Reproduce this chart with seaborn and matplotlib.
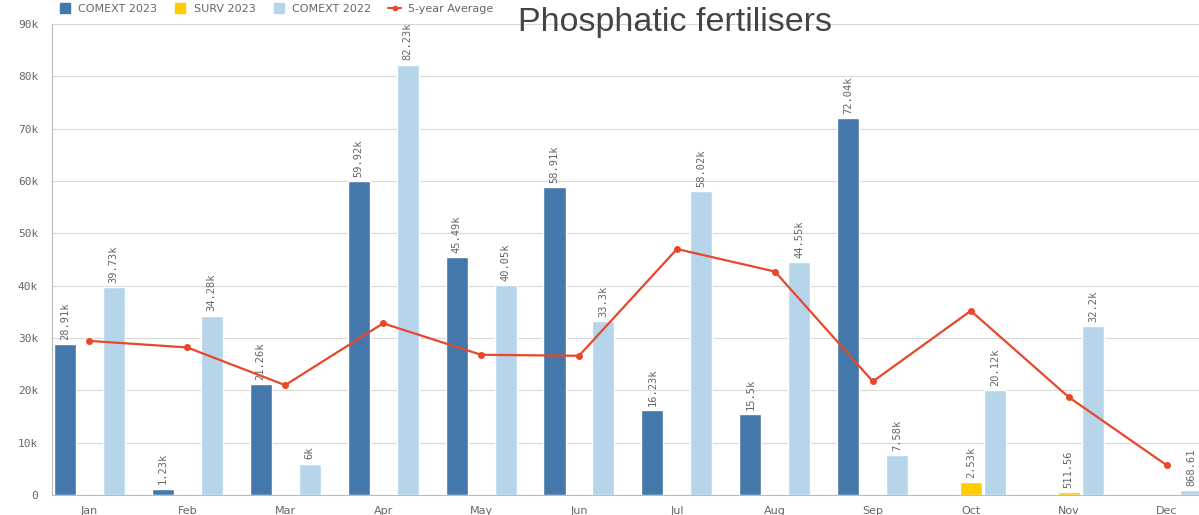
import numpy as np
import pandas as pd
import matplotlib
matplotlib.use("Agg")
import matplotlib.pyplot as plt
from matplotlib.lines import Line2D
import seaborn as sns

# chart data
months = ["Jan", "Feb", "Mar", "Apr", "May", "Jun", "Jul", "Aug", "Sep", "Oct", "Nov", "Dec"]
series = ["COMEXT 2023", "SURV 2023", "COMEXT 2022"]
comext_2023 = [28910, 1230, 21260, 59920, 45490, 58910, 16230, 15500, 72040, np.nan, np.nan, np.nan]
surv_2023 = [np.nan, np.nan, np.nan, np.nan, np.nan, np.nan, np.nan, np.nan, np.nan, 2530, 511.56, np.nan]
comext_2022 = [39730, 34280, 6000, 82230, 40050, 33300, 58020, 44550, 7580, 20120, 32200, 868.61]
avg_5y = [29450, 28200, 21000, 32800, 26800, 26600, 47000, 42700, 21700, 35200, 18700, 5700]
y_ticks = [0, 10000, 20000, 30000, 40000, 50000, 60000, 70000, 80000, 90000]
y_tick_labels = ["0", "10k", "20k", "30k", "40k", "50k", "60k", "70k", "80k", "90k"]

colors = {"COMEXT 2023": "#4477aa", "SURV 2023": "#ffcc00", "COMEXT 2022": "#b6d5ea"}
line_color = "#e8472b"
text_gray = "#666666"

df = pd.DataFrame({
    "month": months * 3,
    "series": np.repeat(series, len(months)),
    "value": comext_2023 + surv_2023 + comext_2022,
})


def fmt(v):
    if v >= 1000:
        s = f"{v / 1000:.2f}".rstrip("0").rstrip(".")
        return s + "k"
    return f"{v:.2f}"


sns.set_style("white")
plt.rcParams["font.family"] = ["DejaVu Sans"]

fig = plt.figure(figsize=(11.99, 5.15), dpi=100)
ax = fig.add_axes([0.0434, 0.0388, 0.9566, 0.9146])

sns.barplot(data=df, x="month", y="value", hue="series", order=months,
            hue_order=series, palette=colors, width=0.75, gap=0.1,
            dodge=True, saturation=1, legend=False, ax=ax, errorbar=None)

for cont in ax.containers:
    labels = [fmt(v) if not np.isnan(v) else "" for v in cont.datavalues]
    ax.bar_label(cont, labels=labels, rotation=90, padding=3, fontsize=7.5,
                 color=text_gray, family="DejaVu Sans Mono")

ax.plot(np.arange(len(months)), avg_5y, color=line_color, lw=1.6,
        marker="o", ms=4, zorder=5)

ax.set_xlim(-0.38, 11.33)
ax.set_ylim(0, 90000)
ax.set_yticks(y_ticks)
ax.set_yticklabels(y_tick_labels, family="DejaVu Sans Mono")
ax.set_xlabel("")
ax.set_ylabel("")
ax.grid(axis="y", color="#d9d9d9", lw=0.8)
ax.set_axisbelow(True)
for side in ["top", "right"]:
    ax.spines[side].set_visible(False)
ax.spines["left"].set_color("#bbbbbb")
ax.spines["bottom"].set_color("#bbbbbb")
ax.tick_params(axis="y", length=8, color="#bbbbbb", labelsize=8, labelcolor=text_gray, pad=2)
ax.tick_params(axis="x", length=0, labelsize=8, labelcolor=text_gray, pad=8)

handles = [Line2D([], [], ls="none", marker="s", ms=7, color=colors[s]) for s in series]
handles.append(Line2D([], [], color=line_color, lw=1.5, marker="o", ms=3))
fig.legend(handles, series + ["5-year Average"], loc="upper left",
           bbox_to_anchor=(0.040, 1.012), ncol=4, frameon=False, fontsize=8,
           labelcolor=text_gray, handlelength=1.2, handletextpad=0.6,
           columnspacing=1.5)

fig.text(0.563, 0.957, "Phosphatic fertilisers", ha="center", va="center",
         fontsize=24.5, color="#444444", family="Liberation Sans")

fig.savefig("out.png", dpi=100)
